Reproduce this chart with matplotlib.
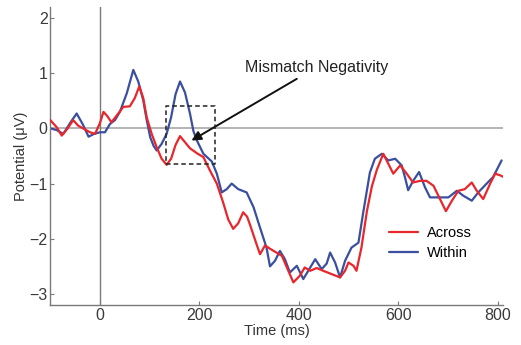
import matplotlib
matplotlib.use('Agg')
import matplotlib.pyplot as plt
import numpy as np

plt.rcParams['font.family'] = ['Liberation Sans', 'DejaVu Sans']

# Across (red) condition, time in ms and potential in uV
across_t = [-100, -87, -77, -65, -54, -44, -34, -20, -10, 0, 7, 15, 23, 35, 47, 60, 70, 79, 87, 94,
            104, 114, 124, 134, 143, 152, 161, 171, 181, 195, 208, 221, 235, 248, 258, 268, 278, 288,
            296, 302, 315, 322, 332, 342, 355, 366, 376, 389, 402, 412, 423, 436, 449, 466, 483, 493,
            500, 510, 516, 526, 537, 547, 557, 570, 580, 590, 604, 617, 630, 644, 657, 671, 684, 696,
            708, 721, 734, 748, 758, 771, 785, 795, 805, 812]
across_v = [0.15, 0.02, -0.13, 0.0, 0.15, 0.05, 0.0, -0.07, -0.1, 0.1, 0.3, 0.22, 0.11, 0.25, 0.39, 0.40,
            0.55, 0.76, 0.55, 0.2, -0.1, -0.34, -0.55, -0.66, -0.55, -0.3, -0.14, -0.25, -0.36, -0.45,
            -0.52, -0.76, -1.0, -1.35, -1.65, -1.82, -1.72, -1.52, -1.6, -1.75, -2.1, -2.28, -2.12,
            -2.18, -2.25, -2.31, -2.52, -2.79, -2.67, -2.52, -2.58, -2.53, -2.58, -2.64, -2.7, -2.58,
            -2.43, -2.49, -2.58, -2.16, -1.5, -1.05, -0.75, -0.46, -0.64, -0.82, -0.67, -0.82, -0.98,
            -0.95, -0.95, -1.04, -1.28, -1.5, -1.31, -1.13, -1.1, -0.98, -1.13, -1.28, -1.0, -0.82,
            -0.85, -0.88]

# Within (blue) condition
within_t = [-100, -87, -74, -60, -47, -35, -23, -12, 0, 10, 20, 30, 40, 54, 67, 77, 87, 94, 101, 108,
            114, 124, 134, 143, 152, 161, 171, 181, 188, 195, 208, 225, 235, 245, 255, 265, 278, 295,
            309, 322, 335, 342, 352, 362, 372, 382, 396, 409, 419, 433, 446, 456, 463, 473, 483, 493,
            506, 520, 530, 543, 553, 567, 580, 594, 607, 614, 620, 630, 642, 654, 664, 684, 701, 718,
            731, 748, 761, 778, 791, 808]
within_v = [0.0, -0.03, -0.1, 0.1, 0.27, 0.08, -0.15, -0.1, -0.07, -0.07, 0.08, 0.15, 0.3, 0.64, 1.06,
            0.85, 0.51, 0.15, -0.16, -0.32, -0.4, -0.28, -0.1, 0.2, 0.62, 0.85, 0.65, 0.27, -0.05, -0.22,
            -0.46, -0.6, -0.82, -1.16, -1.1, -1.0, -1.1, -1.16, -1.43, -1.8, -2.16, -2.5, -2.4, -2.22,
            -2.37, -2.61, -2.49, -2.73, -2.58, -2.37, -2.55, -2.45, -2.25, -2.43, -2.7, -2.4, -2.16,
            -2.07, -1.5, -0.8, -0.55, -0.46, -0.58, -0.55, -0.67, -0.9, -1.12, -0.95, -0.79, -1.07,
            -1.25, -1.25, -1.25, -1.13, -1.22, -1.31, -1.16, -1.0, -0.88, -0.58]

x_ticks = [0, 200, 400, 600, 800]
y_ticks = [-3, -2, -1, 0, 1, 2]

# mismatch negativity window (ms, uV)
box_t = [133, 231]
box_v = [-0.64, 0.4]

fig = plt.figure(figsize=(5.21, 3.45), dpi=100)
ax = fig.add_axes([50.3 / 521, 40 / 345, 452.3 / 521, 298 / 345])

gray = '#7a7a7a'
ax.axhline(0, color='#a8a8a8', lw=1.2, zorder=1)
ax.axvline(0, color=gray, lw=1.0, zorder=1)

ax.plot(across_t, across_v, color='#e8262b', lw=1.6, label='Across', zorder=3,
        solid_joinstyle='round', solid_capstyle='round')
ax.plot(within_t, within_v, color='#3a4fa0', lw=1.6, label='Within', zorder=2,
        solid_joinstyle='round', solid_capstyle='round')

# dashed box
bx = [box_t[0], box_t[1], box_t[1], box_t[0], box_t[0]]
by = [box_v[0], box_v[0], box_v[1], box_v[1], box_v[0]]
ax.plot(bx, by, color='#222222', lw=1.1, ls=(0, (3, 2)), zorder=4)

ax.annotate('Mismatch Negativity', xy=(184, -0.22), xytext=(292, 1.11),
            fontsize=11.5, color='#222222', va='center', ha='left',
            arrowprops=dict(arrowstyle='-|>', color='#111111', lw=1.4,
                            mutation_scale=14, shrinkA=2, shrinkB=0))

ax.set_xlim(-100, 810)
ax.set_ylim(-3.2, 2.2)
ax.set_xticks(x_ticks)
ax.set_yticks(y_ticks)
ax.tick_params(direction='in', length=3, colors=gray, labelcolor='#3a3a3a', labelsize=11.5, pad=2)
for s in ['top', 'right']:
    ax.spines[s].set_visible(False)
for s in ['left', 'bottom']:
    ax.spines[s].set_color(gray)
    ax.spines[s].set_linewidth(1.0)

ax.set_xlabel('Time (ms)', fontsize=10.5, color='#333333', labelpad=1)
ax.set_ylabel('Potential (\u03bcV)', fontsize=10.5, color='#333333', labelpad=1)

ax.legend(loc='upper left', bbox_to_anchor=(0.72, 0.31), frameon=False, fontsize=10.5,
          handlelength=2.0, handletextpad=0.6, labelspacing=0.45)

fig.savefig('out.png', dpi=100)
